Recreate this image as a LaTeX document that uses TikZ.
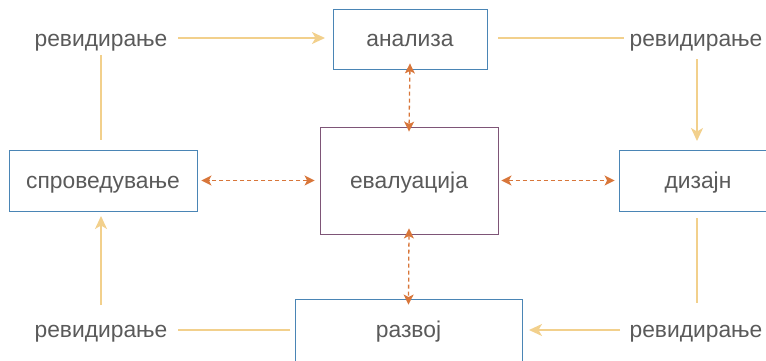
\documentclass[tikz,border=0pt]{standalone}
\usepackage{fontspec}
\setmainfont{Liberation Sans}
\usetikzlibrary{arrows.meta}
\definecolor{boxblue}{HTML}{4A85B5}
\definecolor{boxpurple}{HTML}{7E5577}
\definecolor{txt}{HTML}{5A5A5A}
\definecolor{rev}{HTML}{F2D08C}
\definecolor{ev}{HTML}{D8763A}
\tikzset{
  box/.style={draw=boxblue, line width=0.9pt, fill=white, text=txt, inner sep=0pt, text height=15pt, text depth=0pt, font=\fontsize{22.8}{26}\selectfont},
  lbl/.style={text=txt, inner sep=0pt, text height=15pt, text depth=0pt, font=\fontsize{22.8}{26}\selectfont},
  revline/.style={draw=rev, line width=1.4pt},
  revarrow/.style={revline, -{Stealth[length=13pt,width=12pt,inset=3.5pt]}},
  evarrow/.style={draw=ev, line width=1.3pt, dash pattern=on 4pt off 3pt, {Stealth[length=10pt,width=10pt,inset=2.5pt]}-{Stealth[length=10pt,width=10pt,inset=2.5pt]}}
}
\begin{document}
\begin{tikzpicture}[x=1pt,y=-1pt]
\useasboundingbox (0,0) rectangle (766,360);
\begin{scope}
\clip (0,0) rectangle (766,360);
\node[box, minimum width=154pt, minimum height=60pt] (an) at (410,39) {анализа};
\node[box, draw=boxpurple, minimum width=178pt, minimum height=107pt] (eval) at (409,180.5) {евалуација};
\node[box, minimum width=188pt, minimum height=61pt] (spr) at (103,180.5) {спроведување};
\node[box, minimum width=158pt, minimum height=61pt] (diz) at (698,180.5) {дизајн};
\node[box, minimum width=227pt, minimum height=62pt] (raz) at (408.5,330) {развој};
\end{scope}
\node[lbl] (tl) at (101,39) {ревидирање};
\node[lbl] (tr) at (696,39) {ревидирање};
\node[lbl] (bl) at (101,330) {ревидирање};
\node[lbl] (br) at (696,330) {ревидирање};
\coordinate (c1) at (178,38);
\coordinate (c2) at (325,38);
\draw[revarrow] (c1) -- (c2);
\coordinate (c3) at (101,55);
\coordinate (c4) at (101,140);
\draw[revline] (c3) -- (c4);
\coordinate (c5) at (498,38);
\coordinate (c6) at (624,38);
\draw[revline] (c5) -- (c6);
\coordinate (c7) at (697,59);
\coordinate (c8) at (697,141);
\draw[revarrow] (c7) -- (c8);
\coordinate (c9) at (697,218);
\coordinate (c10) at (697,303);
\draw[revline] (c9) -- (c10);
\coordinate (c11) at (620,330);
\coordinate (c12) at (529,330);
\draw[revarrow] (c11) -- (c12);
\coordinate (c13) at (290,330);
\coordinate (c14) at (178,330);
\draw[revline] (c13) -- (c14);
\coordinate (c15) at (101,305);
\coordinate (c16) at (101,216);
\draw[revarrow] (c15) -- (c16);
\draw[evarrow] ([yshift=6pt]an.south) -- ([yshift=-5pt]eval.north);
\draw[evarrow] ([xshift=-5pt]eval.west) -- ([xshift=4pt]spr.east);
\draw[evarrow] ([xshift=3pt]eval.east) -- ([xshift=-4pt]diz.west);
\draw[evarrow] ([yshift=6pt]eval.south) -- ([yshift=-6pt]raz.north);
\end{tikzpicture}
\end{document}
